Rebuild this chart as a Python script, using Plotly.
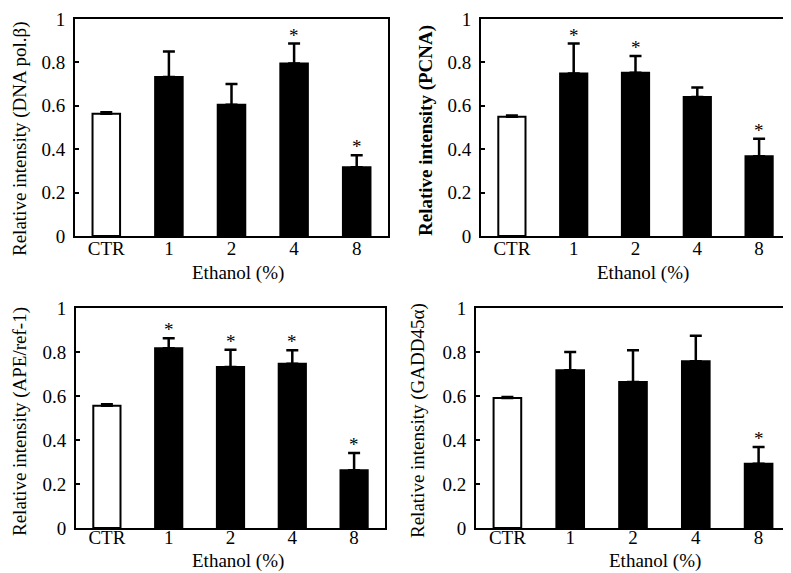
import plotly.graph_objects as go

categories = ["CTR", "1", "2", "4", "8"]

dna_pol_mean = [0.563, 0.733, 0.605, 0.795, 0.317]
dna_pol_err = [0.007, 0.117, 0.095, 0.092, 0.055]
dna_pol_sig = [False, False, False, True, True]

pcna_mean = [0.550, 0.749, 0.752, 0.640, 0.368]
pcna_err = [0.005, 0.138, 0.078, 0.044, 0.080]
pcna_sig = [False, True, True, False, True]

ape_mean = [0.556, 0.817, 0.732, 0.747, 0.262]
ape_err = [0.007, 0.045, 0.078, 0.061, 0.079]
ape_sig = [False, True, True, True, True]

gadd_mean = [0.591, 0.717, 0.664, 0.758, 0.292]
gadd_err = [0.005, 0.083, 0.144, 0.116, 0.076]
gadd_sig = [False, False, False, False, True]

y_ticks = [0, 0.2, 0.4, 0.6, 0.8, 1]
y_tick_labels = ["0", "0.2", "0.4", "0.6", "0.8", "1"]

ytitles = ["Relative intensity (DNA pol.β)", "<b>Relative intensity (PCNA)</b>",
           "Relative intensity (APE/ref-1)", "Relative intensity (GADD45α)"]
xtitle = "Ethanol (%)"

FONT = "Liberation Serif, Times New Roman, serif"
W, H = 791, 573

panels = [
    (dna_pol_mean, dna_pol_err, dna_pol_sig),
    (pcna_mean, pcna_err, pcna_sig),
    (ape_mean, ape_err, ape_sig),
    (gadd_mean, gadd_err, gadd_sig),
]

# pixel boxes: (left, right, top, bottom)
boxes = [(67, 380, 11, 228), (473, 782, 11, 228), (68, 377, 300, 520), (468, 782, 300, 520)]
ytitle_pos = [(12, 131), (418, 122), (12, 414), (410, 413)]
xtitle_pos = [(230, 265), (635, 265), (230, 553), (647, 553)]
x_standoff = [-6, -6, -9, -9]

fig = go.Figure()
annotations = []
layout_axes = {}

for i, ((mean, err, sig), (l, r, t, b)) in enumerate(zip(panels, boxes)):
    n = i + 1
    xa = "x" if n == 1 else f"x{n}"
    ya = "y" if n == 1 else f"y{n}"
    fills = ["white"] + ["black"] * (len(categories) - 1)
    fig.add_trace(go.Bar(
        x=categories, y=mean, xaxis=xa, yaxis=ya,
        marker=dict(color=fills, line=dict(color="black", width=2)),
        error_y=dict(type="data", symmetric=False, array=err,
                     arrayminus=[0] * len(err), color="black", thickness=2.5, width=6),
        showlegend=False,
    ))
    xkey = "xaxis" if n == 1 else f"xaxis{n}"
    ykey = "yaxis" if n == 1 else f"yaxis{n}"
    layout_axes[xkey] = dict(
        type="category", categoryorder="array", categoryarray=categories,
        range=[-0.5, len(categories) - 0.5],
        domain=[l / W, r / W], anchor=ya, showline=True, mirror=True,
        linecolor="black", linewidth=2, ticks="", showgrid=False,
        tickfont=dict(family=FONT, size=19, color="black"), automargin=False,
        fixedrange=True, ticklabelstandoff=x_standoff[i],
    )
    layout_axes[ykey] = dict(
        domain=[1 - b / H, 1 - t / H], anchor=xa, range=[0, 1],
        tickvals=y_ticks, ticktext=y_tick_labels, showline=True, mirror=True,
        linecolor="black", linewidth=2, ticks="inside", ticklen=4, tickwidth=2,
        tickcolor="black", showgrid=False, zeroline=False, automargin=False,
        tickfont=dict(family=FONT, size=19, color="black"), ticklabelstandoff=4,
    )
    for k, (m, e, s) in enumerate(zip(mean, err, sig)):
        if s:
            annotations.append(dict(
                x=k, y=m + e, xref=xa, yref=ya, text="*", showarrow=False,
                yanchor="bottom", yshift=-4,
                font=dict(family=FONT, size=19, color="black"),
            ))
    tx, ty = ytitle_pos[i]
    annotations.append(dict(
        x=tx / W, y=1 - ty / H, xref="paper", yref="paper", text=ytitles[i],
        textangle=-90, showarrow=False, xanchor="center", yanchor="middle",
        font=dict(family=FONT, size=19, color="black"),
    ))
    ex, ey = xtitle_pos[i]
    annotations.append(dict(
        x=ex / W, y=1 - ey / H, xref="paper", yref="paper", text=xtitle,
        showarrow=False, xanchor="center", yanchor="middle",
        font=dict(family=FONT, size=19, color="black"),
    ))

fig.update_layout(
    width=W, height=H, margin=dict(l=0, r=0, t=0, b=0),
    paper_bgcolor="white", plot_bgcolor="white", bargap=0.56,
    annotations=annotations, **layout_axes,
)

fig.write_html("out.html")
